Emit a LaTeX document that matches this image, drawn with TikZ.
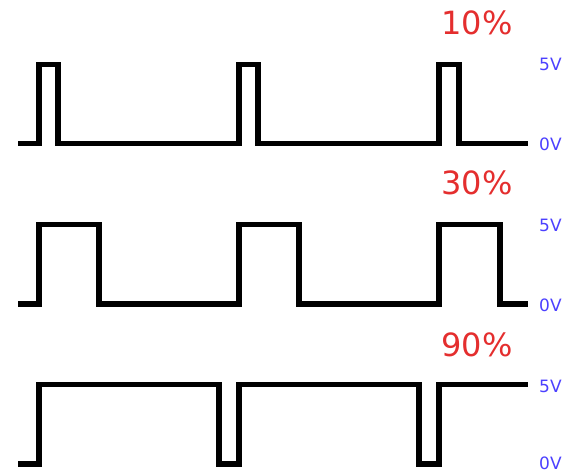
\documentclass[tikz,border=0pt]{standalone}
\usepackage{fontspec}
\setmainfont{DejaVu Sans}
\definecolor{dutyred}{RGB}{228,46,46}
\definecolor{voltblue}{RGB}{76,64,255}
\begin{document}
\begin{tikzpicture}[x=1pt,y=-1pt,
  signal/.style={line width=5.7pt, line join=miter, line cap=butt},
  duty/.style={text=dutyred, font=\fontsize{32}{32}\selectfont, inner sep=0pt, anchor=base},
  volt/.style={text=voltblue, font=\fontsize{17}{17}\selectfont, inner sep=0pt, anchor=west}]
\useasboundingbox (0,0) rectangle (565,473);

% 10% duty cycle
\draw[signal] (18,143.5) -- (39,143.5) -- (39,64.5) -- (58,64.5) -- (58,143.5)
  -- (239,143.5) -- (239,64.5) -- (258,64.5) -- (258,143.5)
  -- (439,143.5) -- (439,64.5) -- (459,64.5) -- (459,143.5) -- (528,143.5);
\node[duty] (d10) at (477,35) {10\%};
\node[volt] (hi1) at (539,64.5) {5V};
\node[volt] (lo1) at (539,144) {0V};

% 30% duty cycle
\draw[signal] (18,304) -- (39,304) -- (39,224.5) -- (99,224.5) -- (99,304)
  -- (239,304) -- (239,224.5) -- (299,224.5) -- (299,304)
  -- (439,304) -- (439,224.5) -- (500,224.5) -- (500,304) -- (528,304);
\node[duty] (d30) at (477,195) {30\%};
\node[volt] (hi2) at (539,225) {5V};
\node[volt] (lo2) at (539,305) {0V};

% 90% duty cycle
\draw[signal] (18,464) -- (39,464) -- (39,384.5) -- (219,384.5) -- (219,464)
  -- (239,464) -- (239,384.5) -- (419,384.5) -- (419,464)
  -- (439,464) -- (439,384.5) -- (528,384.5);
\node[duty] (d90) at (477,356) {90\%};
\node[volt] (hi3) at (539,386) {5V};
\node[volt] (lo3) at (539,463) {0V};
\end{tikzpicture}
\end{document}
